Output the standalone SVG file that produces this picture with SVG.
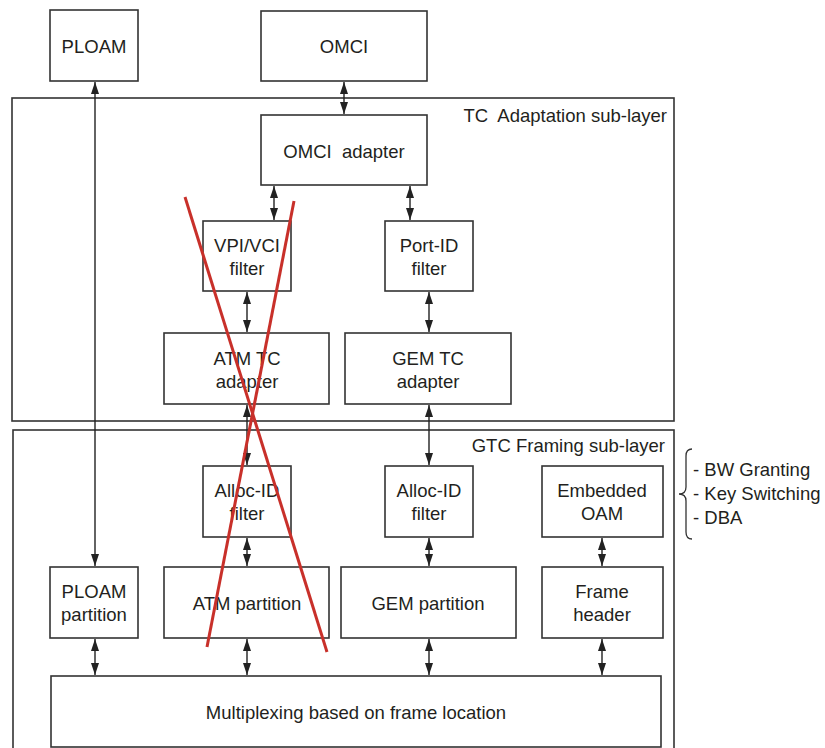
<svg xmlns="http://www.w3.org/2000/svg" width="825" height="748" viewBox="0 0 825 748">
<style>
.box{fill:#fff;stroke:#333;stroke-width:1.6}
.layer{fill:none;stroke:#333;stroke-width:1.6}
text{font-family:"Liberation Sans",Arial,sans-serif;font-size:18.5px;fill:#231f20}
.c{text-anchor:middle}
.r{text-anchor:end}
.con{stroke:#222;stroke-width:1.4;fill:none;marker-start:url(#ah);marker-end:url(#ah)}
.x{stroke:#c8302a;stroke-width:3;fill:none}
</style>
<defs>
<marker id="ah" viewBox="0 0 12 8" refX="12" refY="4" markerWidth="12" markerHeight="8" markerUnits="userSpaceOnUse" orient="auto-start-reverse">
<path d="M0,0 L12,4 L0,8 Z" fill="#222"/>
</marker>
</defs>
<g id="tc-layer"><rect class="layer" x="12" y="98" width="662" height="323"/><text class="r" x="667" y="122">TC&#160; Adaptation sub-layer</text></g>
<g id="gtc-layer"><rect class="layer" x="13" y="430" width="661" height="330"/><text class="r" x="665" y="452">GTC Framing sub-layer</text></g>
<g id="ploam"><rect class="box" x="50" y="10" width="88" height="71"/><text class="c" x="94" y="53">PLOAM</text></g>
<g id="omci"><rect class="box" x="261" y="11" width="166" height="70"/><text class="c" x="344" y="53">OMCI</text></g>
<g id="omci-adapter"><rect class="box" x="261" y="115" width="166" height="70"/><text class="c" x="344" y="158">OMCI&#160; adapter</text></g>
<g id="vpi-vci-filter"><rect class="box" x="203" y="221" width="88" height="70"/><text class="c" x="247" y="252">VPI/VCI</text><text class="c" x="247" y="275">filter</text></g>
<g id="port-id-filter"><rect class="box" x="385" y="221" width="88" height="70"/><text class="c" x="429" y="252">Port-ID</text><text class="c" x="429" y="275">filter</text></g>
<g id="atm-tc-adapter"><rect class="box" x="164" y="333" width="165" height="71"/><text class="c" x="247" y="365">ATM TC</text><text class="c" x="247" y="388">adapter</text></g>
<g id="gem-tc-adapter"><rect class="box" x="345" y="333" width="166" height="71"/><text class="c" x="428" y="365">GEM TC</text><text class="c" x="428" y="388">adapter</text></g>
<g id="alloc-id-filter-1"><rect class="box" x="203" y="466" width="88" height="71"/><text class="c" x="247" y="497">Alloc-ID</text><text class="c" x="247" y="520">filter</text></g>
<g id="alloc-id-filter-2"><rect class="box" x="385" y="466" width="88" height="71"/><text class="c" x="429" y="497">Alloc-ID</text><text class="c" x="429" y="520">filter</text></g>
<g id="embedded-oam"><rect class="box" x="542" y="466" width="121" height="71"/><text class="c" x="602" y="497">Embedded</text><text class="c" x="602" y="520">OAM</text></g>
<g id="ploam-partition"><rect class="box" x="50" y="567" width="88" height="71"/><text class="c" x="94" y="598">PLOAM</text><text class="c" x="94" y="621">partition</text></g>
<g id="atm-partition"><rect class="box" x="164" y="567" width="165" height="71"/><text class="c" x="247" y="610">ATM partition</text></g>
<g id="gem-partition"><rect class="box" x="341" y="567" width="175" height="71"/><text class="c" x="428" y="610">GEM partition</text></g>
<g id="frame-header"><rect class="box" x="542" y="567" width="121" height="71"/><text class="c" x="602" y="598">Frame</text><text class="c" x="602" y="621">header</text></g>
<g id="multiplexing"><rect class="box" x="51" y="676" width="610" height="71"/><text class="c" x="356" y="719">Multiplexing based on frame location</text></g>
<g id="connectors">
<line class="con" x1="95" y1="82" x2="95" y2="566"/>
<line class="con" x1="344" y1="82" x2="344" y2="114"/>
<line class="con" x1="274" y1="186" x2="274" y2="220"/>
<line class="con" x1="410" y1="186" x2="410" y2="220"/>
<line class="con" x1="247" y1="292" x2="247" y2="332"/>
<line class="con" x1="429" y1="292" x2="429" y2="332"/>
<line class="con" x1="247" y1="405" x2="247" y2="465"/>
<line class="con" x1="429" y1="405" x2="429" y2="465"/>
<line class="con" x1="247" y1="538" x2="247" y2="566"/>
<line class="con" x1="429" y1="538" x2="429" y2="566"/>
<line class="con" x1="602" y1="538" x2="602" y2="566"/>
<line class="con" x1="95" y1="639" x2="95" y2="675"/>
<line class="con" x1="247" y1="639" x2="247" y2="675"/>
<line class="con" x1="429" y1="639" x2="429" y2="675"/>
<line class="con" x1="602" y1="639" x2="602" y2="675"/>
</g>
<g id="cross">
<line class="x" x1="185" y1="197" x2="327" y2="652"/>
<line class="x" x1="294" y1="201" x2="207" y2="647"/>
</g>
<g id="functions">
<path d="M692,449 Q686,449 686,456 L686,487 Q686,494 679,494 Q686,494 686,501 L686,532 Q686,539 692,539" fill="none" stroke="#333" stroke-width="1.3"/>
<text x="693" y="476">- BW Granting</text>
<text x="693" y="500">- Key Switching</text>
<text x="693" y="524">- DBA</text>
</g>
</svg>
